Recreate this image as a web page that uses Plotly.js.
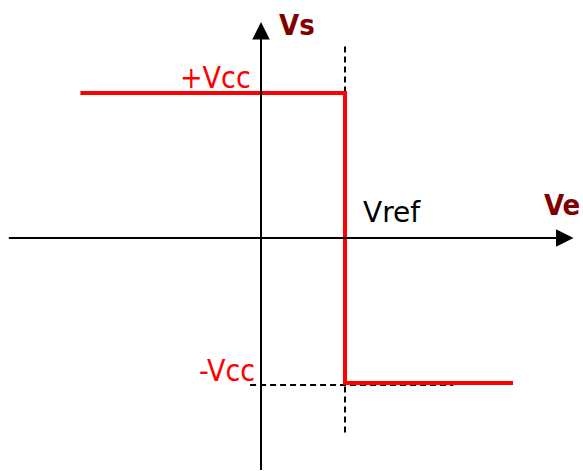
<!DOCTYPE html>
<html>
<head>
<meta charset="utf-8">
<script src="https://cdn.plot.ly/plotly-3.0.1.min.js"></script>
<style>
  html, body { margin: 0; padding: 0; background: #fff; }
  #plot { width: 583px; height: 471px; }
</style>
</head>
<body>
<div id="plot"></div>
<script>
// comparator transfer characteristic, Vs = f(Ve)
var vref = 1;
var vcc = 1;

var ve_out = [-2.15, vref, vref, 3.0];
var vs_out = [vcc, vcc, -vcc, -vcc];

// dashed guides
var guide_v_x = [vref, vref];
var guide_v_y = [1.32, -1.36];
var guide_h_x = [-0.13, 2.29];
var guide_h_y = [-1.014, -1.014];

// axes (start, tip)
var xaxis_line = [-3.02, 3.72];
var yaxis_line = [-1.61, 1.49];

var dashed = {color: '#000', width: 2, dash: '6px,4px'};

var traces = [
  {x: guide_v_x, y: guide_v_y, mode: 'lines', line: dashed, hoverinfo: 'skip'},
  {x: guide_h_x, y: guide_h_y, mode: 'lines', line: dashed, hoverinfo: 'skip'},
  {x: ve_out, y: vs_out, mode: 'lines', line: {color: '#ff0000', width: 4}, hoverinfo: 'skip'}
];

var cond = 'DejaVu Sans Condensed, DejaVu Sans, sans-serif';

var arrowBase = {text: '', showarrow: true, arrowhead: 2, arrowwidth: 2, arrowsize: 1.75,
  arrowcolor: '#000', xref: 'x', yref: 'y', axref: 'x', ayref: 'y', standoff: 0};

var annotations = [
  Object.assign({}, arrowBase, {x: xaxis_line[1], y: 0, ax: xaxis_line[0], ay: 0}),
  Object.assign({}, arrowBase, {x: 0, y: yaxis_line[1], ax: 0, ay: yaxis_line[0]}),
  {text: '<b>Vs</b>', x: 0.43, y: 1.47, showarrow: false,
   font: {family: cond, size: 29, color: '#800000'}},
  {text: '<b>Ve</b>', x: 3.58, y: 0.225, showarrow: false,
   font: {family: cond, size: 29, color: '#800000'}},
  {text: '+Vcc', x: -0.536, y: 1.11, showarrow: false,
   font: {family: cond, size: 30, color: '#ff0000'}},
  {text: '-Vcc', x: -0.408, y: -0.915, showarrow: false,
   font: {family: cond, size: 30, color: '#ff0000'}},
  {text: 'Vref', x: 1.565, y: 0.175, showarrow: false,
   font: {family: 'DejaVu Sans, sans-serif', size: 28, color: '#000'}}
];

var layout = {
  width: 583,
  height: 471,
  margin: {l: 0, r: 0, t: 0, b: 0},
  paper_bgcolor: '#fff',
  plot_bgcolor: '#fff',
  showlegend: false,
  xaxis: {range: [-3.107, 3.833], visible: false, fixedrange: true},
  yaxis: {range: [-1.607, 1.641], visible: false, fixedrange: true},
  annotations: annotations
};

Plotly.newPlot('plot', traces, layout, {displayModeBar: false, staticPlot: true});
</script>
</body>
</html>
